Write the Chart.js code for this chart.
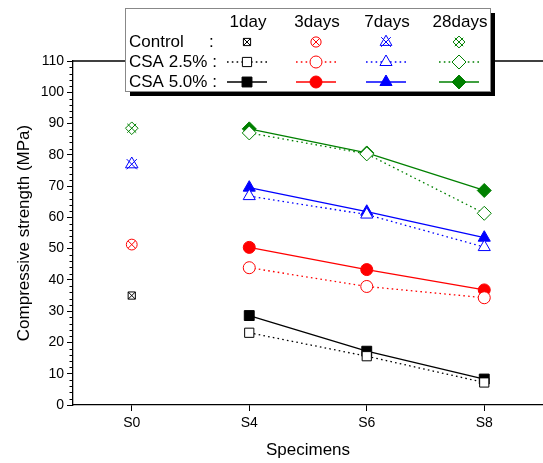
<!DOCTYPE html>
<html>
<head>
<meta charset="utf-8">
<script src="https://cdn.jsdelivr.net/npm/chart.js@4"></script>
<style>
html,body{margin:0;padding:0;background:#fff;}
#wrap{position:relative;width:543px;height:463px;}
</style>
</head>
<body>
<div id="wrap"><canvas id="c" width="543" height="463"></canvas></div>
<script>
// ---- data ----
const categories = ['S0', 'S4', 'S6', 'S8'];
const ages = ['1day', '3days', '7days', '28days'];
const rowLabels = ['Control', 'CSA 2.5%', 'CSA 5.0%'];
const yTicks = [0, 10, 20, 30, 40, 50, 60, 70, 80, 90, 100, 110];
const controlValues = [35.0, 51.3, 77.0, 88.5];           // at S0, per age
const csa25Day1  = [null, 23.1, 15.6, 7.2];
const csa25Day3  = [null, 43.9, 37.9, 34.3];
const csa25Day7  = [null, 66.8, 60.9, 50.5];
const csa25Day28 = [null, 87.0, 80.3, 61.3];
const csa50Day1  = [null, 28.6, 17.2, 8.3];
const csa50Day3  = [null, 50.4, 43.3, 36.8];
const csa50Day7  = [null, 69.5, 61.8, 53.5];
const csa50Day28 = [null, 88.3, 80.6, 68.6];

const colors = ['#000000', '#ff0000', '#0000ff', '#008000'];
const hollowStyles = ['rect', 'circle', 'triangle', 'rectRot'];
const hollowRadius = [6.5, 6, 7, 7];
const filledRadius = [7, 6, 7, 7];
const controlRadius = [6, 6, 8, 7];
const csa25 = [csa25Day1, csa25Day3, csa25Day7, csa25Day28];
const csa50 = [csa50Day1, csa50Day3, csa50Day7, csa50Day28];

function controlData(i) {
  return categories.map((c, k) => (k === 0 ? controlValues[i] : null));
}

const datasets = [];
// Control: shape + cross overlay
ages.forEach((a, i) => {
  datasets.push({
    label: 'Control ' + a, data: controlData(i), showLine: false,
    pointStyle: hollowStyles[i], pointRadius: controlRadius[i] * (i === 0 ? 0.85 : 0.9),
    pointBorderColor: colors[i], pointBackgroundColor: 'rgba(0,0,0,0)', pointBorderWidth: 1,
    borderColor: colors[i]
  });
  datasets.push({
    label: 'Control x ' + a, data: controlData(i), showLine: false,
    pointStyle: 'crossRot', pointRadius: controlRadius[i] * (i === 0 ? 0.85 : 0.9),
    pointBorderColor: colors[i], pointBorderWidth: 1, borderColor: colors[i]
  });
});
// CSA 2.5% hollow, dotted
ages.forEach((a, i) => {
  datasets.push({
    label: 'CSA 2.5% ' + a, data: csa25[i], showLine: true, spanGaps: false,
    borderColor: colors[i], borderWidth: 1.3, borderDash: [1.6, 3.2],
    pointStyle: hollowStyles[i], pointRadius: hollowRadius[i],
    pointBorderColor: colors[i], pointBackgroundColor: '#ffffff', pointBorderWidth: 1
  });
});
// CSA 5.0% filled, solid
ages.forEach((a, i) => {
  datasets.push({
    label: 'CSA 5.0% ' + a, data: csa50[i], showLine: true,
    borderColor: colors[i], borderWidth: 1.3,
    pointStyle: hollowStyles[i], pointRadius: filledRadius[i],
    pointBorderColor: colors[i], pointBackgroundColor: colors[i], pointBorderWidth: 1
  });
});

function drawMarker(ctx, style, r, x, y, color, fill) {
  ctx.save();
  ctx.strokeStyle = color;
  ctx.fillStyle = fill;
  ctx.lineWidth = 1;
  if (Chart.helpers && Chart.helpers.drawPoint) {
    Chart.helpers.drawPoint(ctx, {pointStyle: style, rotation: 0, radius: r, borderWidth: 1}, x, y);
  } else {
    ctx.beginPath(); ctx.arc(x, y, r, 0, Math.PI * 2); ctx.fill(); ctx.stroke();
  }
  ctx.restore();
}

const framePlugin = {
  id: 'frame',
  afterDraw(chart) {
    const ctx = chart.ctx, area = chart.chartArea, ys = chart.scales.y;
    ctx.save();
    // top frame line
    ctx.strokeStyle = '#000'; ctx.lineWidth = 1.3;
    ctx.beginPath(); ctx.moveTo(area.left, area.top); ctx.lineTo(area.right, area.top); ctx.stroke();
    // minor ticks on y
    ctx.lineWidth = 1;
    for (let v = ys.min; v <= ys.max; v += 2) {
      if (v % 10 === 0) continue;
      const py = Math.round(ys.getPixelForValue(v)) + 0.5;
      ctx.beginPath(); ctx.moveTo(area.left - 3.5, py); ctx.lineTo(area.left, py); ctx.stroke();
    }
    // legend box
    const bx = 125, by = 8, bw = 365, bh = 83;
    ctx.fillStyle = '#000';
    ctx.fillRect(bx + 5, by + 5, bw, bh);
    ctx.fillStyle = '#fff';
    ctx.fillRect(bx, by, bw, bh);
    ctx.strokeStyle = '#888'; ctx.lineWidth = 1;
    ctx.strokeRect(bx + 0.5, by + 0.5, bw, bh);
    ctx.fillStyle = '#000';
    ctx.font = '17px "Liberation Sans", Arial, sans-serif';
    ctx.textBaseline = 'middle';
    const colX = [248, 317, 387, 460];
    const rowY = [42, 62, 82];
    ctx.textAlign = 'center';
    ages.forEach((a, i) => ctx.fillText(a, colX[i], 22));
    ctx.textAlign = 'left';
    ctx.fillText(rowLabels[0], 129, rowY[0]);
    ctx.fillText(':', 209, rowY[0]);
    ctx.fillText(rowLabels[1] + ' :', 129, rowY[1]);
    ctx.fillText(rowLabels[2] + ' :', 129, rowY[2]);
    ages.forEach((a, i) => {
      const cx = colX[i] - 1;
      const col = colors[i];
      // control
      const cr = controlRadius[i] * 0.85;
      drawMarker(ctx, hollowStyles[i], cr, cx, rowY[0], col, 'rgba(0,0,0,0)');
      drawMarker(ctx, 'crossRot', cr, cx, rowY[0], col, 'rgba(0,0,0,0)');
      // 2.5 dotted
      ctx.save();
      ctx.strokeStyle = col; ctx.lineWidth = 1.3; ctx.setLineDash([1.6, 3.2]);
      ctx.beginPath(); ctx.moveTo(cx - 20, rowY[1]); ctx.lineTo(cx + 20, rowY[1]); ctx.stroke();
      ctx.restore();
      drawMarker(ctx, hollowStyles[i], hollowRadius[i], cx, rowY[1], col, '#fff');
      // 5.0 solid
      ctx.save();
      ctx.strokeStyle = col; ctx.lineWidth = 1.3;
      ctx.beginPath(); ctx.moveTo(cx - 20, rowY[2]); ctx.lineTo(cx + 20, rowY[2]); ctx.stroke();
      ctx.restore();
      drawMarker(ctx, hollowStyles[i], filledRadius[i], cx, rowY[2], col, col);
    });
    ctx.restore();
  }
};

new Chart(document.getElementById('c'), {
  type: 'line',
  data: { labels: categories, datasets: datasets },
  options: {
    responsive: false,
    animation: false,
    layout: { autoPadding: false, padding: { top: 61, right: 0, left: 0, bottom: 0 } },
    plugins: { legend: { display: false }, tooltip: { enabled: false } },
    elements: { line: { tension: 0 } },
    scales: {
      x: {
        type: 'category', offset: true,
        grid: { display: true, drawOnChartArea: false, drawTicks: true, tickLength: 6, offset: false, color: '#000', lineWidth: 1 },
        border: { display: true, color: '#000', width: 1.3 },
        ticks: { color: '#000', padding: 4, font: { family: '"Liberation Sans", Arial, sans-serif', size: 14 }, maxRotation: 0 },
        title: { display: true, text: 'Specimens', color: '#000', font: { family: '"Liberation Sans", Arial, sans-serif', size: 17 }, padding: { top: 4, bottom: 2 } },
        afterFit(s) { s.height = 58; s.paddingLeft = 0; s.paddingRight = 0; }
      },
      y: {
        min: 0, max: 110,
        afterBuildTicks(s) { s.ticks = yTicks.map(v => ({ value: v })); },
        grid: { display: true, drawOnChartArea: false, drawTicks: true, tickLength: 6, color: '#000', lineWidth: 1 },
        border: { display: true, color: '#000', width: 1.3 },
        ticks: { color: '#000', padding: 3, font: { family: '"Liberation Sans", Arial, sans-serif', size: 14 } },
        title: { display: true, text: 'Compressive strength (MPa)', color: '#000', font: { family: '"Liberation Sans", Arial, sans-serif', size: 17 }, padding: { top: 14, bottom: 4 } },
        afterFit(s) { s.width = 73; s.paddingTop = 0; s.paddingBottom = 0; }
      }
    }
  },
  plugins: [framePlugin]
});
</script>
</body>
</html>
